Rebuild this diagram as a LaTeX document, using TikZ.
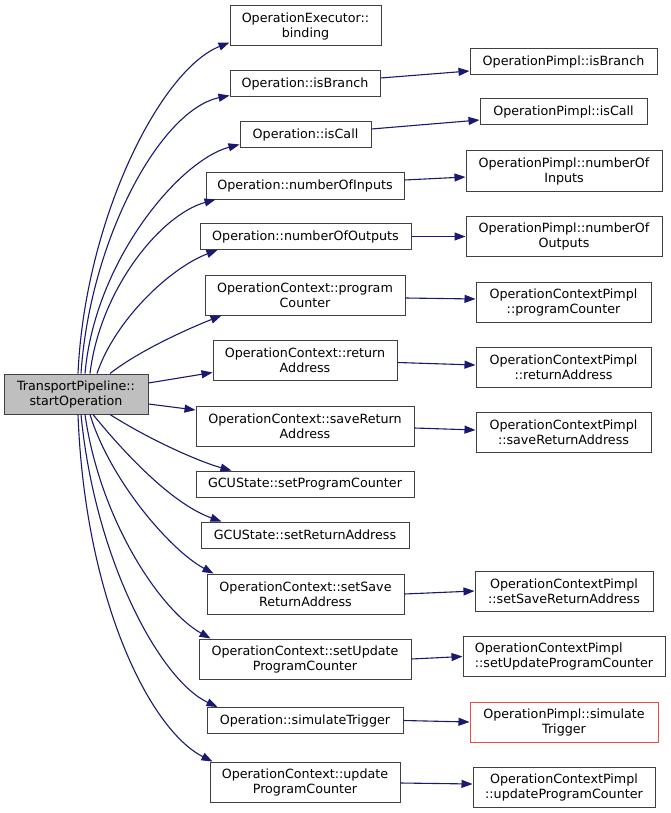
\documentclass[tikz,border=0pt]{standalone}
\usepackage{fontspec}
\setsansfont{DejaVu Sans}
\usepackage{xcolor}
\usepackage{tikz}
\usetikzlibrary{arrows.meta}
\definecolor{edgeblue}{HTML}{191970}
\definecolor{boxgray}{HTML}{404040}
\definecolor{rootfill}{HTML}{BFBFBF}
\definecolor{cutred}{HTML}{F04848}
\begin{document}
\begin{tikzpicture}[x=1pt,y=-1pt,
  fn/.style={draw=boxgray,line width=1pt,fill=white,align=center,inner sep=0pt,
    minimum height=26pt,font=\sffamily\fontsize{12.7pt}{15pt}\selectfont},
  fn2/.style={fn,minimum height=40pt},
  call/.style={edgeblue,line width=1.1pt,-{Triangle[length=11pt,width=8pt]}}]
\useasboundingbox[fill=white](0,0)rectangle(671,813);
\node[fn2,fill=rootfill,minimum width=144pt](start)at(76,394){TransportPipeline::\\startOperation};
\node[fn2,minimum width=151pt](binding)at(305.5,26){OperationExecutor::\\binding};
\node[fn,minimum width=150pt](isbranch)at(305,84){Operation::isBranch};
\node[fn,minimum width=131pt](iscall)at(305.5,135){Operation::isCall};
\node[fn,minimum width=198pt](inputs)at(305,186){Operation::numberOfInputs};
\node[fn,minimum width=211pt](outputs)at(305.5,236.5){Operation::numberOfOutputs};
\node[fn2,minimum width=200pt](pc)at(305,295){OperationContext::program\\Counter};
\node[fn2,minimum width=184pt](ra)at(305,360.5){OperationContext::return\\Address};
\node[fn2,minimum width=218pt](savera)at(305,426){OperationContext::saveReturn\\Address};
\node[fn,minimum width=218pt](gcupc)at(305,484){GCUState::setProgramCounter};
\node[fn,minimum width=208pt](gcura)at(305,535){GCUState::setReturnAddress};
\node[fn2,minimum width=197pt](setsavera)at(305.5,594){OperationContext::setSave\\ReturnAddress};
\node[fn2,minimum width=212pt](setupdpc)at(305,659){OperationContext::setUpdate\\ProgramCounter};
\node[fn,minimum width=196pt](simtrig)at(305,720.5){Operation::simulateTrigger};
\node[fn2,minimum width=190pt](updpc)at(305,782){OperationContext::update\\ProgramCounter};
\node[fn,minimum width=187pt](pisbranch)at(563.5,62){OperationPimpl::isBranch};
\node[fn,minimum width=167pt](piscall)at(563.5,112){OperationPimpl::isCall};
\node[fn2,minimum width=196pt](pinputs)at(564,171){OperationPimpl::numberOf\\Inputs};
\node[fn2,minimum width=196pt](poutputs)at(564,236.5){OperationPimpl::numberOf\\Outputs};
\node[fn2,minimum width=175pt](ppc)at(563.5,302){OperationContextPimpl\\::programCounter};
\node[fn2,minimum width=175pt](pra)at(563.5,367){OperationContextPimpl\\::returnAddress};
\node[fn2,minimum width=175pt](psavera)at(563.5,432){OperationContextPimpl\\::saveReturnAddress};
\node[fn2,minimum width=178pt](psetsavera)at(564,591){OperationContextPimpl\\::setSaveReturnAddress};
\node[fn2,minimum width=202pt,align=left](psetupdpc)at(564,656.5){OperationContextPimpl\\::setUpdateProgramCounter};
\node[fn2,draw=cutred,minimum width=188pt](psimtrig)at(564,722){OperationPimpl::simulate\\Trigger};
\node[fn2,minimum width=182pt](pupdpc)at(564,787){OperationContextPimpl\\::updateProgramCounter};
\draw[call]([xshift=2pt]start.north)..controls(85,220)and(160,70)..([yshift=4pt]binding.south west);
\draw[call]([xshift=5pt]start.north)..controls(90,240)and(160,110)..([yshift=2pt]isbranch.south west);
\draw[call]([xshift=9pt]start.north)..controls(95,260)and(180,160)..([yshift=4pt]iscall.south west);
\draw[call]([xshift=14pt]start.north)..controls(100,290)and(160,215)..([xshift=10pt]inputs.south west);
\draw[call]([xshift=21pt]start.north)..controls(115,320)and(170,268)..([xshift=18pt]outputs.south west);
\draw[call]([xshift=34pt]start.north)..controls(140,350)and(190,328)..([xshift=17pt]pc.south west);
\draw[call]([yshift=11pt]start.east)--([yshift=-12pt]ra.west);
\draw[call]([yshift=-10pt]start.east)--([yshift=16pt]savera.west);
\draw[call]([xshift=34pt]start.south)..controls(150,440)and(200,462)..([xshift=36pt]gcupc.north west);
\draw[call]([xshift=17pt]start.south)..controls(130,460)and(175,505)..([xshift=21pt]gcura.north west);
\draw[call]([xshift=14pt]start.south)..controls(110,480)and(170,550)..([xshift=7pt]setsavera.north west);
\draw[call]([xshift=9pt]start.south)..controls(100,520)and(160,610)..([xshift=12pt]setupdpc.north west);
\draw[call]([xshift=5pt]start.south)..controls(95,560)and(160,680)..([xshift=11pt]simtrig.north west);
\draw[call]([xshift=2pt]start.south)..controls(85,600)and(150,730)..([xshift=3pt]updpc.north west);
\draw[call]([yshift=6pt]isbranch.east)--([yshift=-9pt]pisbranch.west);
\draw[call]([yshift=6pt]iscall.east)--([yshift=-8pt]piscall.west);
\draw[call]([yshift=6pt]inputs.east)--([yshift=-6pt]pinputs.west);
\draw[call](outputs.east)--(poutputs.west);
\draw[call]([yshift=-3pt]pc.east)--([yshift=3pt]ppc.west);
\draw[call]([yshift=-2pt]ra.east)--([yshift=2pt]pra.west);
\draw[call]([yshift=-2pt]savera.east)--([yshift=2pt]psavera.west);
\draw[call](setsavera.east)--(psetsavera.west);
\draw[call](setupdpc.east)--(psetupdpc.west);
\draw[call](simtrig.east)--(psimtrig.west);
\draw[call]([yshift=-1pt]updpc.east)--([yshift=3pt]pupdpc.west);
\end{tikzpicture}
\end{document}
